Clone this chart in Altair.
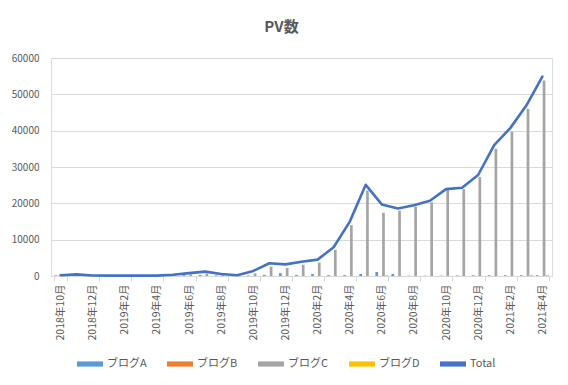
import altair as alt
import pandas as pd

months = [
    "2018年10月", "2018年11月", "2018年12月",
    "2019年1月", "2019年2月", "2019年3月", "2019年4月", "2019年5月", "2019年6月",
    "2019年7月", "2019年8月", "2019年9月", "2019年10月", "2019年11月", "2019年12月",
    "2020年1月", "2020年2月", "2020年3月", "2020年4月", "2020年5月", "2020年6月",
    "2020年7月", "2020年8月", "2020年9月", "2020年10月", "2020年11月", "2020年12月",
    "2021年1月", "2021年2月", "2021年3月", "2021年4月",
]

blog_a = [150, 350, 100, 80, 80, 80, 80, 150, 250, 300, 200, 100, 150, 300, 800, 300,
          550, 250, 250, 550, 1100, 550, 100, 100, 100, 150, 200, 200, 200, 200, 200]
blog_b = [30, 40, 20, 10, 10, 10, 10, 20, 30, 30, 20, 10, 20, 30, 30, 20,
          20, 20, 20, 30, 30, 20, 20, 20, 20, 20, 20, 20, 20, 20, 20]
blog_c = [0, 0, 0, 0, 0, 0, 0, 100, 450, 650, 300, 100, 700, 2600, 2200, 3100,
          3700, 7200, 14000, 23500, 17400, 18000, 19100, 20300, 23700, 23900, 27200,
          35000, 39700, 46000, 53800]
blog_d = [0, 0, 0, 0, 0, 0, 0, 0, 0, 0, 0, 0, 0, 0, 0, 0,
          0, 0, 0, 0, 200, 0, 0, 0, 0, 0, 0, 0, 0, 250, 250]
total = [200, 450, 150, 100, 100, 100, 100, 350, 800, 1200, 550, 200, 1400, 3500, 3200, 3900,
         4500, 7900, 14900, 25100, 19700, 18600, 19500, 20700, 23900, 24300, 27800,
         36000, 40700, 46900, 54900]

series_names = ["ブログA", "ブログB", "ブログC", "ブログD", "Total"]
series_colors = ["#5b9bd5", "#ed7d31", "#a5a5a5", "#ffc000", "#4472c4"]
y_ticks = [0, 10000, 20000, 30000, 40000, 50000, 60000]

rows = []
for name, vals in zip(series_names[:4], [blog_a, blog_b, blog_c, blog_d]):
    for m, v in zip(months, vals):
        rows.append({"month": m, "series": name, "pv": v})
bars_df = pd.DataFrame(rows)
line_df = pd.DataFrame({"month": months, "series": "Total", "pv": total})

FONT = "Noto Sans CJK JP"
GREY_TXT = "#595959"
GRID = "#d9d9d9"

x_enc = alt.X(
    "month:N", sort=months, title=None,
    scale=alt.Scale(paddingInner=0.2),
    axis=alt.Axis(
        values=months[::2], labelAngle=-90, tickBand="extent", tickColor=GRID,
        tickSize=5, domainColor=GRID, labelColor=GREY_TXT, labelFontSize=10.5,
        labelPadding=3, labelFont=FONT, grid=False,
    ),
)
y_enc = alt.Y(
    "pv:Q", title=None,
    scale=alt.Scale(domain=[0, 60000], nice=False),
    axis=alt.Axis(
        values=y_ticks, format="d", ticks=False, domain=False, gridColor=GRID,
        labelColor=GREY_TXT, labelFontSize=10, labelPadding=12, labelFont=FONT,
        labelOverlap=False,
    ),
)
color_enc = alt.Color(
    "series:N",
    scale=alt.Scale(domain=series_names, range=series_colors),
    legend=alt.Legend(
        title=None, orient="none", direction="horizontal", legendX=26, legendY=293,
        symbolType="M-1,-0.2H1V0.2H-1Z", symbolSize=676, symbolStrokeWidth=0,
        labelFont=FONT, labelFontSize=11, labelColor=GREY_TXT, columnPadding=20,
        labelOffset=4, padding=0,
    ),
)

bars = alt.Chart(bars_df).mark_bar().encode(
    x=x_enc,
    xOffset=alt.XOffset("series:N", sort=series_names[:4],
                        scale=alt.Scale(paddingInner=0.2)),
    y=y_enc,
    color=color_enc,
)

line = alt.Chart(line_df).mark_line(
    strokeWidth=2.6, strokeJoin="round", strokeCap="round"
).encode(
    x=x_enc,
    y=y_enc,
    color=color_enc,
)

chart = alt.layer(bars, line).properties(
    width=501, height=218,
    title=alt.TitleParams("PV数", font=FONT, fontSize=15, fontWeight="bold",
                          color=GREY_TXT, anchor="middle", dx=-20, offset=18),
    autosize=alt.AutoSizeParams(type="none"),
    padding={"left": 43, "top": 50, "right": 8, "bottom": 105},
).configure_view(stroke=None).configure(background="white")

chart.save("out.html", embed_options={"renderer": "svg", "actions": False})
